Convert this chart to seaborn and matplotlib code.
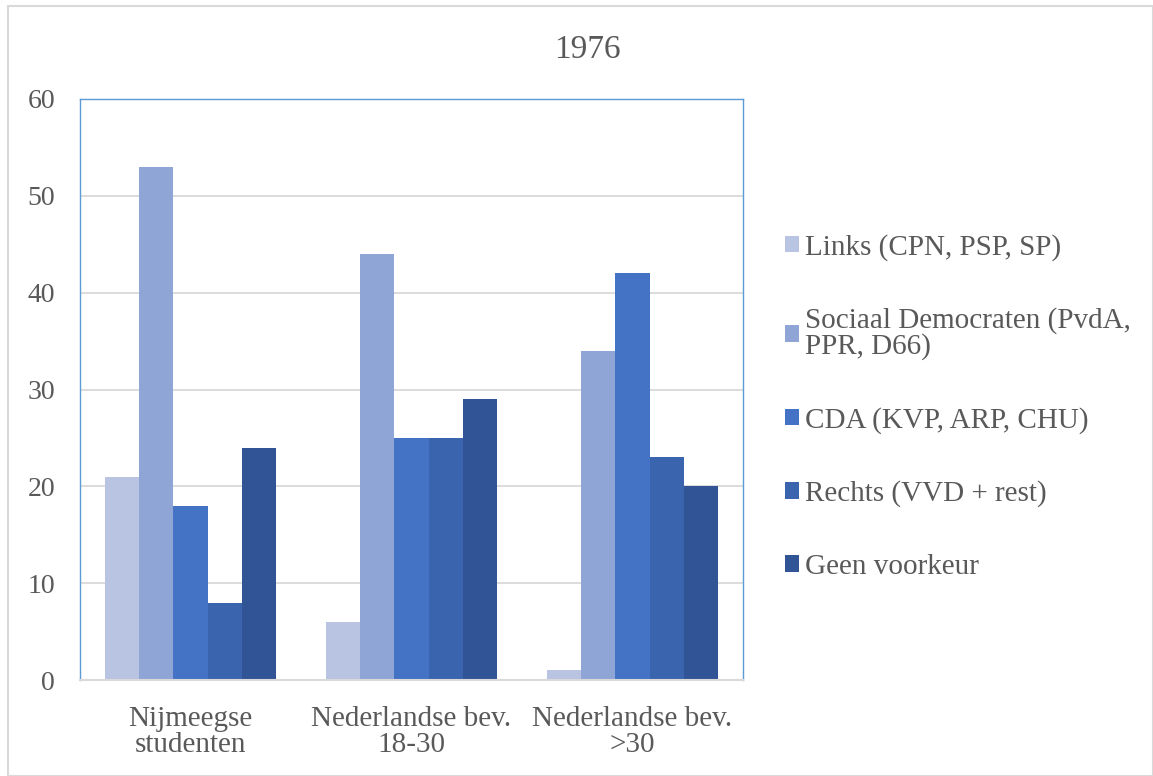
import pandas as pd
import matplotlib.pyplot as plt
import seaborn as sns
from matplotlib.patches import Rectangle

# data
groups = ['Nijmeegse\nstudenten', 'Nederlandse bev.\n18-30', 'Nederlandse bev.\n>30']
parties = ['Links (CPN, PSP, SP)', 'Sociaal Democraten (PvdA,\nPPR, D66)',
           'CDA (KVP, ARP, CHU)', 'Rechts (VVD + rest)', 'Geen voorkeur']
links = [21, 6, 1]
sociaal = [53, 44, 34]
cda = [18, 25, 42]
rechts = [8, 25, 23]
geen = [24, 29, 20]

colors = ['#B9C3E2', '#8FA5D5', '#4472C4', '#3A64AD', '#305496']

rows = []
for party, vals in zip(parties, [links, sociaal, cda, rechts, geen]):
    for g, v in zip(groups, vals):
        rows.append({'group': g, 'party': party, 'value': v})
df = pd.DataFrame(rows)

sns.set_style('white')
plt.rcParams['font.family'] = ['Liberation Serif', 'DejaVu Serif']
text_col = '#595959'

fig = plt.figure(figsize=(11.53, 7.76), dpi=100)
ax = fig.add_axes([80 / 1153, 1 - 680 / 776, 663 / 1153, 581 / 776])

sns.barplot(data=df, x='group', y='value', hue='party', palette=colors,
            width=0.77, gap=0, saturation=1, edgecolor='none', ax=ax)

ax.set_ylim(0, 60)
ax.set_xlim(-0.5, 2.5)
ax.set_yticks(range(0, 61, 10))
ax.yaxis.grid(True, color='#D9D9D9', lw=1.3)
ax.set_axisbelow(True)
ax.set_xlabel('')
ax.set_ylabel('')
ax.tick_params(axis='both', length=0, colors=text_col)
ax.tick_params(axis='y', labelsize=20, pad=18)
ax.tick_params(axis='x', labelsize=21, pad=19)
for lab in ax.get_xticklabels():
    lab.set_linespacing(1.0)
for s in ['top', 'right', 'left']:
    ax.spines[s].set_color('#5B9BD5')
    ax.spines[s].set_linewidth(1.0)
ax.spines['bottom'].set_color('#D9D9D9')
ax.spines['bottom'].set_linewidth(1.5)

# legend outside on the right, square markers
handles, labels = ax.get_legend_handles_labels()
leg = ax.legend(handles, labels, loc='center left', bbox_to_anchor=(1.063, 0.47),
                frameon=False, fontsize=21, labelspacing=1.6, handlelength=0.5,
                handleheight=0.5, handletextpad=0.2, borderpad=0,
                borderaxespad=0, labelcolor=text_col)
for t in leg.get_texts():
    t.set_linespacing(0.95)

fig.text(587 / 1153, 1 - 50 / 776, '1976', ha='center', va='center',
         fontsize=24, color=text_col)

# outer chart border
fig.patches.append(Rectangle((8 / 1153, 0), 1 - 8 / 1153, 1 - 6 / 776,
                             transform=fig.transFigure, fill=False,
                             edgecolor='#D9D9D9', lw=1.5))

fig.savefig('out.png', dpi=100)
